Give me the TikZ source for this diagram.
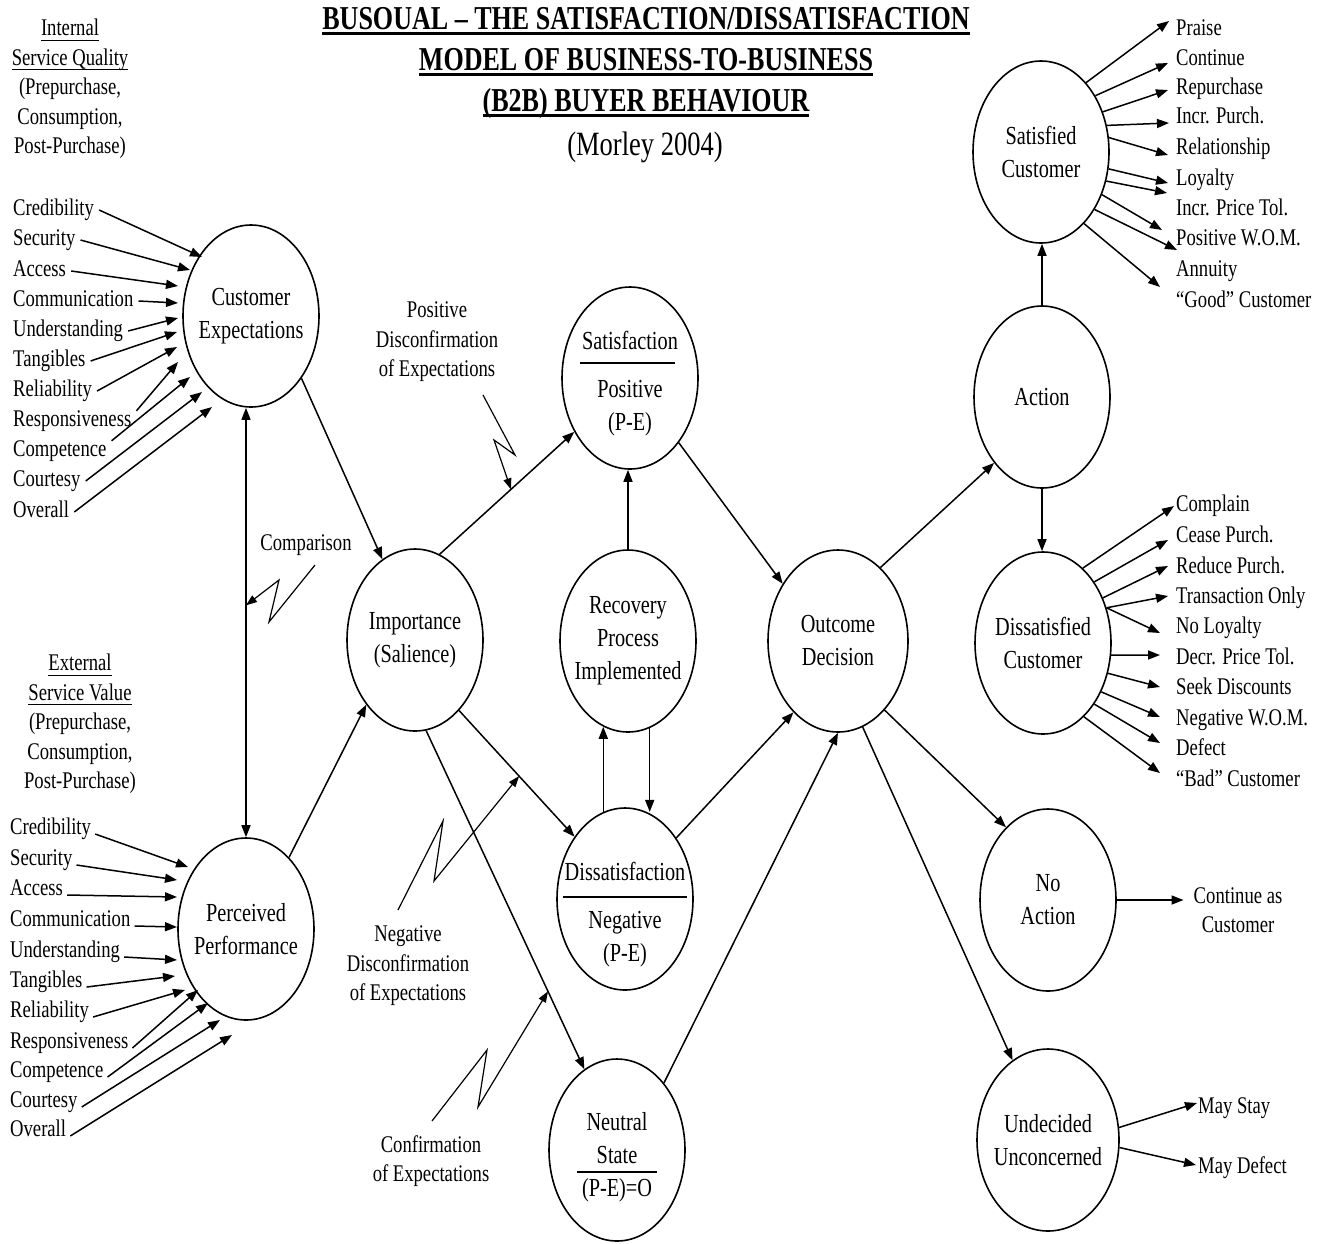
\documentclass[tikz,border=0pt]{standalone}
\usepackage{fontspec}
\setmainfont{Liberation Serif}[FakeStretch=0.78]
\usetikzlibrary{shapes.geometric,arrows.meta}

\newcommand{\lblfont}{\fontsize{23.9}{29.5}\selectfont}
\newcommand{\bubfont}{\fontsize{26}{33}\selectfont}
\newcommand{\ttlfont}{\bfseries\fontsize{33.4}{41}\selectfont}
% underline with its own thickness
\newcommand{\undr}[2][2.4pt]{\setbox0\hbox{#2}\rlap{\rule[-5pt]{\wd0}{#1}}\copy0}

\tikzset{
  bubble/.style={draw, ellipse, line width=1.6pt, minimum width=136pt, minimum height=182pt,
    inner xsep=-14pt, inner ysep=0pt, align=center, font=\bubfont},
  bubtext/.style={align=center, inner sep=0pt, font=\bubfont},
  lbl/.style={anchor=west, inner sep=0pt, font=\lblfont, text height=15pt, text depth=5pt},
  remark/.style={align=center, inner sep=0pt, font=\lblfont},
  arr/.style={-{Triangle[length=12pt,width=9pt]}, line width=1.5pt},
  dbl/.style={{Triangle[length=12pt,width=9pt]}-{Triangle[length=12pt,width=9pt]}, line width=1.5pt},
  zig/.style={-{Triangle[length=11pt,width=8pt]}, line width=1.2pt},
}

\begin{document}
\begin{tikzpicture}[x=1pt,y=-1pt]
  \useasboundingbox (0,0) rectangle (1322,1243);

  % title
  \node[align=center, inner sep=0pt, font=\ttlfont] (title) at (646,63)
    {\undr{BUSOUAL -- THE SATISFACTION/DISSATISFACTION}\\\undr{MODEL OF BUSINESS-TO-BUSINESS}\\\undr{(B2B) BUYER BEHAVIOUR}};
  \node[inner sep=0pt, font=\fontsize{34}{38}\selectfont] (cite) at (645,147) {(Morley 2004)};

  % headings of the two lists
  \node[remark] (isq) at (70,89) {\undr[1.2pt]{Internal}\\\undr[1.2pt]{Service Quality}\\(Prepurchase,\\Consumption,\\Post-Purchase)};
  \node[remark] (esv) at (80,724) {\undr[1.2pt]{External}\\\undr[1.2pt]{Service Value}\\(Prepurchase,\\Consumption,\\Post-Purchase)};

  % ellipses
  \node[bubble] (ce) at (251,316) {Customer\\Expectations};
  \node[bubble] (pp) at (246,929) {Perceived\\Performance};
  \node[bubble] (imp) at (415,640) {Importance\\(Salience)};
  \node[bubble] (sat) at (630,378) {};
  \node[bubtext] (sat-t) at (630,384) {Satisfaction\\[15pt]Positive\\(P-E)};
  \draw[line width=1.4pt] ([shift={(-50,-15)}]sat.center) -- ([shift={(45,-15)}]sat.center);
  \node[bubble] (rec) at (628,641) {Recovery\\Process\\Implemented};
  \node[bubble] (dis) at (625,899) {};
  \node[bubtext] (dis-t) at (625,915) {Dissatisfaction\\[15pt]Negative\\(P-E)};
  \draw[line width=1.4pt] ([shift={(-62,-2)}]dis.center) -- ([shift={(62,-2)}]dis.center);
  \node[bubble] (neu) at (617,1150) {};
  \node[bubtext] (neu-t) at (617,1157) {Neutral\\State\\(P-E)=O};
  \draw[line width=1.4pt] ([shift={(-40,22)}]neu.center) -- ([shift={(40,22)}]neu.center);
  \node[bubble, minimum width=140pt] (out) at (838,641) {Outcome\\Decision};
  \node[bubble] (scust) at (1041,152) {Satisfied\\Customer};
  \node[bubble] (act) at (1042,397) {Action};
  \node[bubble] (dcust) at (1043,643) {Dissatisfied\\Customer};
  \node[bubble] (noact) at (1048,900) {No\\Action};
  \node[bubble, minimum width=142pt] (und) at (1048,1140) {Undecided\\Unconcerned};

  % main flow
  \draw[arr] (ce.-51.5) -- (imp.112.6);
  \draw[arr] (pp.59) -- (imp.233);
  \draw[arr] (imp.74.5) -- coordinate[pos=.53] (pdc-tip) (sat.224.5);
  \draw[arr] (imp.-58.4) -- coordinate[pos=.52] (ndc-tip) (dis.129.8);
  \draw[arr] (imp.-83.7) -- coordinate[pos=.77] (coe-tip) (neu.112.5);
  \draw[arr] (sat.-53) -- (out.134);
  \draw[arr] (rec.north) -- (rec.north |- sat.south);
  \draw[arr] (dis.104) -- (dis.104 |- rec.-106);
  \draw[arr] (rec.-76) -- (rec.-76 |- dis.76);
  \draw[arr] (dis.50.4) -- (out.238);
  \draw[arr] (neu.55.5) -- (out.270);
  \draw[arr] (out.60.4) -- (act.234.7);
  \draw[arr] (act.north) -- (act.north |- scust.south);
  \draw[arr] (act.south) -- (act.south |- dcust.north);
  \draw[arr] (out.-56.5) -- (noact.120);
  \draw[arr] (out.-74.6) -- (und.114);
  \draw[dbl] (pp.north |- ce.south) -- coordinate[pos=.46] (cmp-tip) (pp.north);

  % zigzag pointers
  \node[remark] (cmp) at (306,545) {Comparison};
  \node[remark] (pdc) at (437,342) {Positive\\Disconfirmation\\of Expectations};
  \node[remark] (ndc) at (408,966) {Negative\\Disconfirmation\\of Expectations};
  \node[remark] (coe) at (431,1161) {Confirmation\\of Expectations};
  \draw[zig] ([shift={(9,20)}]cmp.center) -- ++(-46,57) -- ++(10,-42) -- (cmp-tip);
  \draw[zig] ([shift={(46,53)}]pdc.center) -- ++(32,60) -- ++(-21,-15) -- (pdc-tip);
  \draw[zig] ([shift={(-10,-56)}]ndc.center) -- ++(45,-89) -- ++(-9,60) -- (ndc-tip);
  \draw[zig] ([shift={(1,-40)}]coe.center) -- ++(55,-71) -- ++(-9,57) -- (coe-tip);

  % inputs to customer expectations
  \foreach \t/\y/\a/\dx/\dy [count=\i] in {Credibility/210/east/-49/-59, Security/240/east/-61/-46,
      Access/271/east/-73/-30, Communication/301/east/-73/-13, Understanding/331/east/-73/2,
      Tangibles/361/east/-74/16, Reliability/391/east/-74/31, Responsiveness/421/north east/-73/46,
      Competence/451/north east/-61/61, Courtesy/481/east/-49/76, Overall/512/east/-39/91}
  {
    \node[lbl] (ce-\i) at (13,\y) {\t};
    \draw[arr] ([xshift=5pt]ce-\i.\a) -- ([shift={(\dx,\dy)}]ce.center);
  }

  % inputs to perceived performance
  \foreach \t/\y/\dx/\dy [count=\i] in {Credibility/829/-58/-62, Security/860/-69/-49,
      Access/890/-69/-32, Communication/921/-69/-2, Understanding/952/-69/31,
      Tangibles/982/-71/47, Reliability/1012/-61/61, Responsiveness/1043/-48/61,
      Competence/1072/-38/74, Courtesy/1102/-26/91, Overall/1131/-14/106}
  {
    \node[lbl] (pp-\i) at (10,\y) {\t};
    \draw[arr] ([shift={(4,5)}]pp-\i.east) -- ([shift={(\dx,\dy)}]pp.center);
  }

  % outcomes of the satisfied customer
  \foreach \t/\y/\a/\dx/\dy [count=\i] in {Praise/30/57/-7/-9, Continue/60/46/-8/3,
      Repurchase/89/33/-8/1, Incr. Purch./118/22/-7/5, Relationship/149/12/-8/6,
      Loyalty/180/-14/-8/3, Incr. Price Tol./210/-24/-9/-17, Positive W.O.M./240/-35/-14/-10,
      Annuity/271/-47/1/-21, ``Good'' Customer/302/-59/-16/-15}
  {
    \node[lbl] (sc-\i) at (1176,\y) {\t};
    \draw[arr] (scust.\a) -- ([shift={(\dx,\dy)}]sc-\i.west);
  }

  % outcomes of the dissatisfied customer
  \foreach \t/\y/\a/\dx/\dy [count=\i] in {Complain/506/62/-2/0, Cease Purch./537/50/-8/3,
      Reduce Purch./568/37/-8/-2, Transaction Only/598/29/-8/-2, No Loyalty/628/29/-16/5,
      Decr. Price Tol./659/-10/-16/-4, Seek Discounts/689/-25/-16/-2,
      Negative W.O.M./720/-40/-16/-3, Defect/750/-50/-16/-7, ``Bad'' Customer/781/-61/-16/-8}
  {
    \node[lbl] (dc-\i) at (1176,\y) {\t};
    \draw[arr] (dcust.\a) -- ([shift={(\dx,\dy)}]dc-\i.west);
  }

  % no action / undecided
  \node[remark] (cont) at (1238,910) {Continue as\\Customer};
  \draw[arr, shorten >=10pt] (noact.east) -- (noact.east -| cont.west);
  \node[lbl] (stay) at (1198,1108) {May Stay};
  \node[lbl] (defect) at (1198,1168) {May Defect};
  \draw[arr] (und.10) -- ([shift={(-1,-5)}]stay.west);
  \draw[arr] (und.-6) -- ([shift={(-2,-3)}]defect.west);
\end{tikzpicture}
\end{document}
